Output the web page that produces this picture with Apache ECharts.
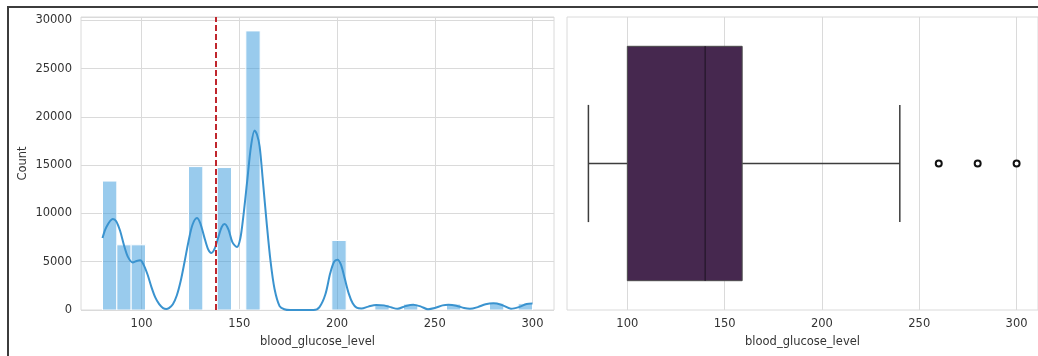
<!DOCTYPE html>
<html>
<head>
<meta charset="utf-8">
<script src="https://cdn.jsdelivr.net/npm/echarts@6/dist/echarts.min.js"></script>
<style>
  html, body { margin: 0; padding: 0; background: #fff; }
  #chart { width: 1038px; height: 356px; }
</style>
</head>
<body>
<div id="chart"></div>
<script>
// ---------- data ----------
const xLabel = 'blood_glucose_level';
const yLabel = 'Count';
const xTicks = [100, 150, 200, 250, 300];
const yTicks = [0, 5000, 10000, 15000, 20000, 25000, 30000];
const binMin = 80;
const binMax = 300;
const binCounts = [13350, 6750, 6750, 0, 0, 0, 14850, 0, 14750, 0,
                   28900, 0, 0, 0, 0, 0, 7200, 0, 0, 580,
                   0, 610, 0, 0, 610, 0, 0, 700, 0, 650];
const kdeX = [80, 82, 85.3, 87, 89, 91, 93, 95.5, 97.5, 99.3, 101, 103, 105, 107, 109, 111, 112.6, 114, 116, 118,
              120, 122, 124, 126, 128.3, 130, 132, 134, 135.7, 137.5, 139.5, 141, 142.5, 144.5, 146.5, 148.8, 150.5, 152, 154, 156,
              157.8, 159, 160.4, 162, 164, 166, 168, 170.6, 173, 176, 188, 191, 194, 196.5, 198.5, 200.2, 202, 204, 206, 208,
              210, 212.5, 216, 220, 224, 228, 231, 235, 239, 243, 246.5, 250, 254, 257, 261, 265, 268, 272, 276, 280,
              284, 289, 293, 297, 300];
const kdeY = [7450, 8600, 9420, 9200, 8200, 6700, 5500, 4930, 5080, 5140, 4700, 3700, 2400, 1300, 600, 200, 100, 200, 600, 1500,
              3000, 5000, 7100, 8800, 9520, 9000, 7600, 6300, 5900, 6400, 7700, 8600, 8900, 8300, 7000, 6520, 7400, 9600, 13300, 17000,
              18590, 18200, 16930, 13500, 9000, 5000, 2200, 400, 80, 0, 0, 300, 1600, 3800, 5000, 5210, 4700, 3200, 1700, 700,
              250, 150, 350, 530, 480, 250, 130, 400, 550, 350, 80, 200, 480, 550, 450, 200, 120, 300, 600, 700,
              550, 130, 300, 620, 680];
const meanValue = 138.1;
// box plot: [min whisker, Q1, median, Q3, max whisker]
const boxStats = [80, 100, 140, 159, 240];
const outliers = [260, 280, 300];

// ---------- derived ----------
const binWidth = (binMax - binMin) / binCounts.length;
const histData = binCounts.map((c, i) => [binMin + i * binWidth, binMin + (i + 1) * binWidth, c]);
const kdeData = kdeX.map((x, i) => [x, kdeY[i]]);

const FONT = 'DejaVu Sans';
const TXT = '#333333';
const GRID = '#dadada';

const chart = echarts.init(document.getElementById('chart'), null, { renderer: 'canvas' });

const xAxisCommon = {
  type: 'value', min: 69, max: 311,
  name: xLabel, nameLocation: 'middle', nameGap: 26,
  nameTextStyle: { fontFamily: FONT, fontSize: 11.5, color: TXT },
  axisLine: { show: false },
  axisTick: { show: false, customValues: xTicks },
  axisLabel: { customValues: xTicks, fontFamily: FONT, fontSize: 11.5, color: TXT, margin: 8 },
  splitLine: { show: true, lineStyle: { color: GRID, width: 1 } }
};

chart.setOption({
  animation: false,
  backgroundColor: '#ffffff',
  graphic: [{
    type: 'rect', shape: { x: 8, y: 7, width: 1100, height: 400 },
    style: { fill: 'none', stroke: '#3c3c3c', lineWidth: 2 }, silent: true, z: 100
  }],
  grid: [
    { left: 81, top: 17, width: 473, height: 293, show: true, borderColor: GRID, borderWidth: 1, containLabel: false },
    { left: 567, top: 17, width: 472, height: 293, show: true, borderColor: GRID, borderWidth: 1, containLabel: false }
  ],
  xAxis: [
    Object.assign({ gridIndex: 0 }, xAxisCommon),
    Object.assign({ gridIndex: 1 }, xAxisCommon)
  ],
  yAxis: [
    {
      gridIndex: 0, type: 'value', min: 0, max: 30340, interval: 5000,
      name: yLabel, nameLocation: 'middle', nameGap: 52, nameRotate: 90,
      nameTextStyle: { fontFamily: FONT, fontSize: 11.5, color: TXT },
      axisLine: { show: false }, axisTick: { show: false },
      axisLabel: { fontFamily: FONT, fontSize: 11.5, color: TXT, margin: 9, showMaxLabel: false,
                   formatter: v => (yTicks.indexOf(v) >= 0 ? String(v) : '') },
      splitLine: { show: true, lineStyle: { color: GRID, width: 1 } }
    },
    {
      gridIndex: 1, type: 'category', data: [xLabel],
      axisLine: { show: false }, axisTick: { show: false }, axisLabel: { show: false },
      splitLine: { show: false }
    }
  ],
  series: [
    {
      type: 'custom', xAxisIndex: 0, yAxisIndex: 0, data: histData, clip: true,
      encode: { x: [0, 1], y: 2 },
      renderItem: function (params, api) {
        const p0 = api.coord([api.value(0), api.value(2)]);
        const p1 = api.coord([api.value(1), 0]);
        return {
          type: 'rect',
          shape: { x: p0[0], y: p0[1], width: p1[0] - p0[0], height: p1[1] - p0[1] },
          style: { fill: 'rgba(52,152,219,0.5)', stroke: '#ffffff', lineWidth: 1 }
        };
      },
      z: 2
    },
    {
      type: 'line', xAxisIndex: 0, yAxisIndex: 0, data: kdeData, smooth: 0.3,
      showSymbol: false, symbol: 'none', clip: true,
      lineStyle: { color: '#3a93cf', width: 2 },
      markLine: {
        silent: true, symbol: ['none', 'none'], label: { show: false },
        lineStyle: { color: '#c0262d', width: 2, type: [6, 3] },
        data: [{ xAxis: meanValue }]
      },
      z: 3
    },
    {
      type: 'custom', xAxisIndex: 1, yAxisIndex: 1, data: [[0].concat(boxStats)],
      encode: { x: [1, 2, 3, 4, 5], y: 0 },
      renderItem: function (params, api) {
        const band = api.size([0, 1])[1];
        const bw = band * 0.8;
        const c = api.coord([api.value(3), 0]);
        const cy = c[1];
        const xMin = api.coord([api.value(1), 0])[0];
        const xQ1 = api.coord([api.value(2), 0])[0];
        const xMed = c[0];
        const xQ3 = api.coord([api.value(4), 0])[0];
        const xMax = api.coord([api.value(5), 0])[0];
        const lineStyle = { stroke: '#3d3d3d', lineWidth: 1.5 };
        return {
          type: 'group',
          children: [
            { type: 'line', shape: { x1: xMin, y1: cy, x2: xQ1, y2: cy }, style: lineStyle },
            { type: 'line', shape: { x1: xQ3, y1: cy, x2: xMax, y2: cy }, style: lineStyle },
            { type: 'line', shape: { x1: xMin, y1: cy - bw / 4, x2: xMin, y2: cy + bw / 4 }, style: lineStyle },
            { type: 'line', shape: { x1: xMax, y1: cy - bw / 4, x2: xMax, y2: cy + bw / 4 }, style: lineStyle },
            { type: 'rect', shape: { x: xQ1, y: cy - bw / 2, width: xQ3 - xQ1, height: bw },
              style: { fill: '#46284f', stroke: '#4a4a4a', lineWidth: 1 } },
            { type: 'line', shape: { x1: xMed, y1: cy - bw / 2, x2: xMed, y2: cy + bw / 2 },
              style: { stroke: '#2a1a30', lineWidth: 1.5 } }
          ]
        };
      },
      z: 2
    },
    {
      type: 'scatter', xAxisIndex: 1, yAxisIndex: 1,
      data: outliers.map(v => [v, 0]),
      symbol: 'circle', symbolSize: 6,
      itemStyle: { color: '#ffffff', borderColor: '#111111', borderWidth: 2, opacity: 1 },
      z: 4
    }
  ]
});
</script>
</body>
</html>
